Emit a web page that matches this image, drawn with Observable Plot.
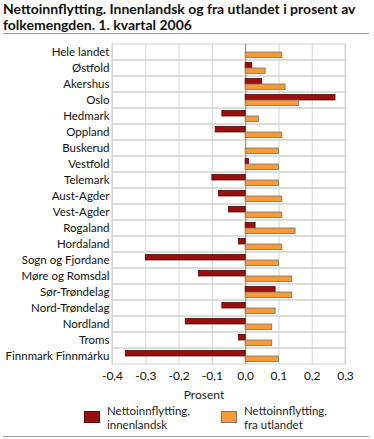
<!DOCTYPE html>
<html>
<head>
<meta charset="utf-8">
<script src="https://cdn.jsdelivr.net/npm/d3@7"></script>
<script src="https://cdn.jsdelivr.net/npm/@observablehq/plot@0.6"></script>
<style>
  html, body { margin: 0; padding: 0; background: #fff; }
  body { width: 374px; height: 439px; position: relative; overflow: hidden; font-family: Lato, sans-serif; color: #222; }
  #title { position: absolute; left: 3px; top: 1px; width: 372px; font-weight: bold; font-size: 14px; line-height: 16px; color: #111; white-space: nowrap; }
  .rule { position: absolute; left: 3px; width: 366px; height: 1px; background: #9a9a9a; }
  #chart { position: absolute; left: 0; top: 40px; }
  #xlabel { position: absolute; top: 388px; left: 0; width: 408px; text-align: center; font-size: 12px; line-height: 14px; color: #222; }
  .leg { position: absolute; top: 405px; font-size: 11.5px; color: #222; }
  .sw { position: absolute; width: 14px; height: 10px; top: 6px; }
  .lt { position: absolute; left: 23px; white-space: nowrap; line-height: 12px; }
</style>
</head>
<body>
<div id="title">Nettoinnflytting. Innenlandsk og fra utlandet i prosent av<br>folkemengden. 1. kvartal 2006</div>
<div class="rule" style="top:33px"></div>
<div id="chart"></div>
<div id="xlabel">Prosent</div>
<div class="leg" style="left:84px"><div class="sw" style="background:#990f0f;border:1px solid #5a0808"></div><div class="lt" style="top:0">Nettoinnflytting,</div><div class="lt" style="top:14px">innenlandsk</div></div>
<div class="leg" style="left:221px"><div class="sw" style="background:#f79a38;border:1px solid #777"></div><div class="lt" style="top:0">Nettoinnflytting,</div><div class="lt" style="top:14px">fra utlandet</div></div>
<div class="rule" style="top:436px"></div>
<script>
const regions = ["Hele landet","Østfold","Akershus","Oslo","Hedmark","Oppland","Buskerud","Vestfold","Telemark","Aust-Agder","Vest-Agder","Rogaland","Hordaland","Sogn og Fjordane","Møre og Romsdal","Sør-Trøndelag","Nord-Trøndelag","Nordland","Troms","Finnmark Finnmárku"];
const innenlandsk = [0.00,0.02,0.05,0.27,-0.07,-0.09,0.00,0.01,-0.10,-0.08,-0.05,0.03,-0.02,-0.30,-0.14,0.09,-0.07,-0.18,-0.02,-0.36];
const utlandet   = [0.11,0.06,0.12,0.16,0.04,0.11,0.10,0.10,0.10,0.11,0.11,0.15,0.11,0.10,0.14,0.14,0.09,0.08,0.08,0.10];
const xTicks = [-0.4,-0.3,-0.2,-0.1,0,0.1,0.2,0.3];

const rowsInn = regions.map((r, i) => ({region: r, value: innenlandsk[i]}));
const rowsUtl = regions.map((r, i) => ({region: r, value: utlandet[i]}));
const fmt = d => d3.format(".1f")(d).replace("−", "-").replace(".", ",");

const chart = Plot.plot({
  width: 374,
  height: 364,
  marginLeft: 112,
  marginRight: 29,
  marginTop: 4,
  marginBottom: 40,
  style: {fontFamily: "Lato, sans-serif", fontSize: "12px", color: "#222", background: "transparent"},
  x: {domain: [-0.4, 0.3], label: null},
  y: {domain: regions, padding: 0, label: null},
  marks: [
    Plot.gridX(xTicks, {stroke: "#d6d6d6", strokeOpacity: 1, strokeWidth: 1}),
    Plot.cell(regions, {y: d => d, fill: "none", stroke: "#d2d2d2", strokeWidth: 1}),
    Plot.ruleX([0], {stroke: "#8a8a8a", strokeWidth: 1}),
    Plot.barX(rowsInn, {y: "region", x: "value", fill: "#990f0f", stroke: "#5a0808", strokeWidth: 0.8, insetTop: 2.5, insetBottom: 8}),
    Plot.barX(rowsUtl, {y: "region", x: "value", fill: "#f79a38", stroke: "#707070", strokeWidth: 0.8, insetTop: 8, insetBottom: 2.5}),
    Plot.axisY({anchor: "left", tickSize: 0, tickPadding: 3, fontSize: 11.5, fill: "#111", label: null}),
    Plot.axisX({anchor: "bottom", ticks: xTicks, tickSize: 0, tickPadding: 7, fontSize: 12, fill: "#111", label: null, tickFormat: fmt})
  ]
});
document.getElementById("chart").appendChild(chart);
</script>
</body>
</html>
